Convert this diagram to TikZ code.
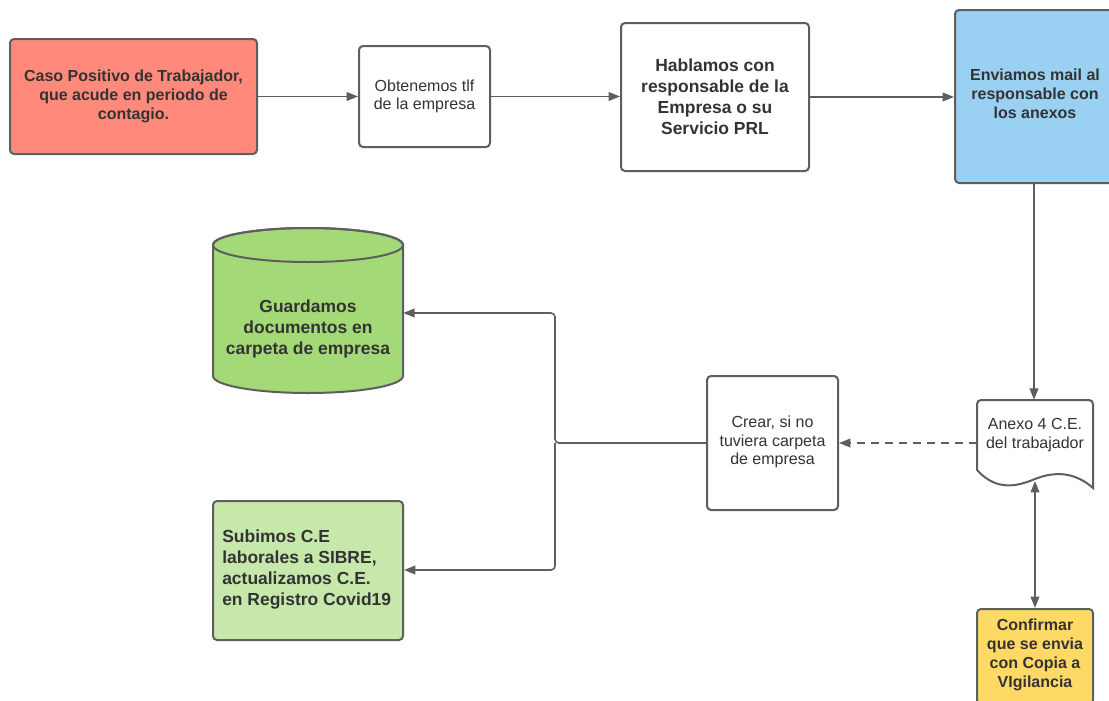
\documentclass[tikz,border=0pt]{standalone}
\usepackage{fontspec}
\setmainfont{Liberation Sans}
\usetikzlibrary{arrows.meta}
\definecolor{edge}{HTML}{5E5E5E}
\definecolor{ink}{HTML}{333333}
\definecolor{redfill}{HTML}{FF8A7C}
\definecolor{bluefill}{HTML}{9AD0F2}
\definecolor{greenfill}{HTML}{A3D977}
\definecolor{palegreen}{HTML}{C6E8AB}
\definecolor{yellowfill}{HTML}{FFD966}
\tikzset{
  box/.style={draw=edge, line width=1.5pt, rounded corners=3pt, fill=white,
    text=ink, align=center, inner sep=0pt},
  ghost/.style={inner sep=0pt, text=ink, align=center},
  bigtxt/.style={font=\fontsize{12}{14.25}\selectfont\bfseries},
  hugetxt/.style={font=\fontsize{13.1}{15.75}\selectfont\bfseries},
  plaintxt/.style={font=\fontsize{12}{14}\selectfont},
  link/.style={draw=edge, line width=1.2pt, -{Triangle[length=8.5pt,width=6.5pt]}},
  twolink/.style={draw=edge, line width=1.2pt, {Triangle[length=8.5pt,width=6.5pt]}-{Triangle[length=8.5pt,width=6.5pt]}},
}
\begin{document}
\begin{tikzpicture}[x=0.75pt, y=-0.75pt]
\clip (0,0) rectangle (1109,700);
\fill[white] (0,0) rectangle (1109,700);

% top row
\node[box, bigtxt, fill=redfill, minimum width=185.25pt, minimum height=86.25pt]
  (caso) at (133.5,96.5) {Caso Positivo de Trabajador,\\que acude en periodo de\\contagio.};
\node[box, plaintxt, minimum width=98.25pt, minimum height=75.75pt]
  (tlf) at (424.5,96.5) {Obtenemos tlf\\de la empresa};
\node[box, hugetxt, minimum width=141pt, minimum height=111pt]
  (habla) at (715,97) {Hablamos con\\responsable de la\\Empresa o su\\Servicio PRL};
\node[box, bigtxt, fill=bluefill, minimum width=118.5pt, minimum height=129.75pt]
  (mail) at (1034,96.5) {};
\node[ghost, bigtxt] at (1035,94) {Enviamos mail al\\responsable con\\los anexos};

% storage cylinder
\node[ghost, minimum width=142.5pt, minimum height=123.75pt] (cyl) at (308,310.5) {};
\filldraw[draw=edge, fill=greenfill, line width=1.5pt]
  (213,245) -- (213,376) arc[start angle=180, end angle=0, x radius=95, y radius=17]
  -- (403,245) arc[start angle=0, end angle=-180, x radius=95, y radius=17] -- cycle;
\draw[edge, line width=1.5pt] (308,245) ellipse [x radius=95, y radius=17];
\node[ghost, hugetxt] at (308,329) {Guardamos\\documentos en\\carpeta de empresa};

% upload box
\node[box, hugetxt, fill=palegreen, minimum width=142.5pt, minimum height=104.25pt]
  (sube) at (308,570.5) {};
\node[ghost, hugetxt, align=left, anchor=west] at (222,570) {Subimos C.E\\laborales a SIBRE,\\actualizamos C.E.\\en Registro Covid19};

% folder creation
\node[box, plaintxt, minimum width=98.25pt, minimum height=100.5pt]
  (crear) at (772.5,443) {};
\node[ghost, plaintxt] at (772.5,442) {Crear, si no\\tuviera carpeta\\de empresa};

% annex document
\node[ghost, minimum width=87pt, minimum height=54.75pt] (anexo) at (1035,436.5) {};
\filldraw[draw=edge, fill=white, line width=1.5pt]
  (977,470) [rounded corners=3pt] -- (977,400) -- (1093,400) [sharp corners] -- (1093,488)
  .. controls (1075,472) and (1055,471) .. (1035,479)
  .. controls (1018,486) and (997,492) .. cycle;
\node[ghost, plaintxt] at (1035,435) {Anexo 4 C.E.\\del trabajador};
\coordinate (anexoBot) at (1035,481);

% confirmation box
\node[box, bigtxt, fill=yellowfill, minimum width=87pt, minimum height=71.25pt]
  (conf) at (1035,656.5) {};
\node[ghost, bigtxt] at (1035,655) {Confirmar\\que se envia\\con Copia a\\VIgilancia};

% connectors
\draw[link] (caso.east) -- (tlf.west);
\draw[link] (tlf.east |- 0,96.5) -- (habla.west |- 0,96.5);
\draw[link] (habla.east |- 0,97) -- (mail.west |- 0,97);
\draw[link] (mail.south -| 1034,0) -- (anexo.north -| 1034,0);
\draw[link, dashed, dash pattern=on 6pt off 4.5pt] (anexo.west |- crear.east) -- (crear.east);
\draw[twolink] (anexoBot) -- (conf.north);
\coordinate (split) at (555,443);
\draw[link, rounded corners=3pt] (crear.west) -- (split) |- (cyl.east |- 0,313);
\draw[link, rounded corners=3pt] (split) |- (sube.east |- 0,570);
\end{tikzpicture}
\end{document}
